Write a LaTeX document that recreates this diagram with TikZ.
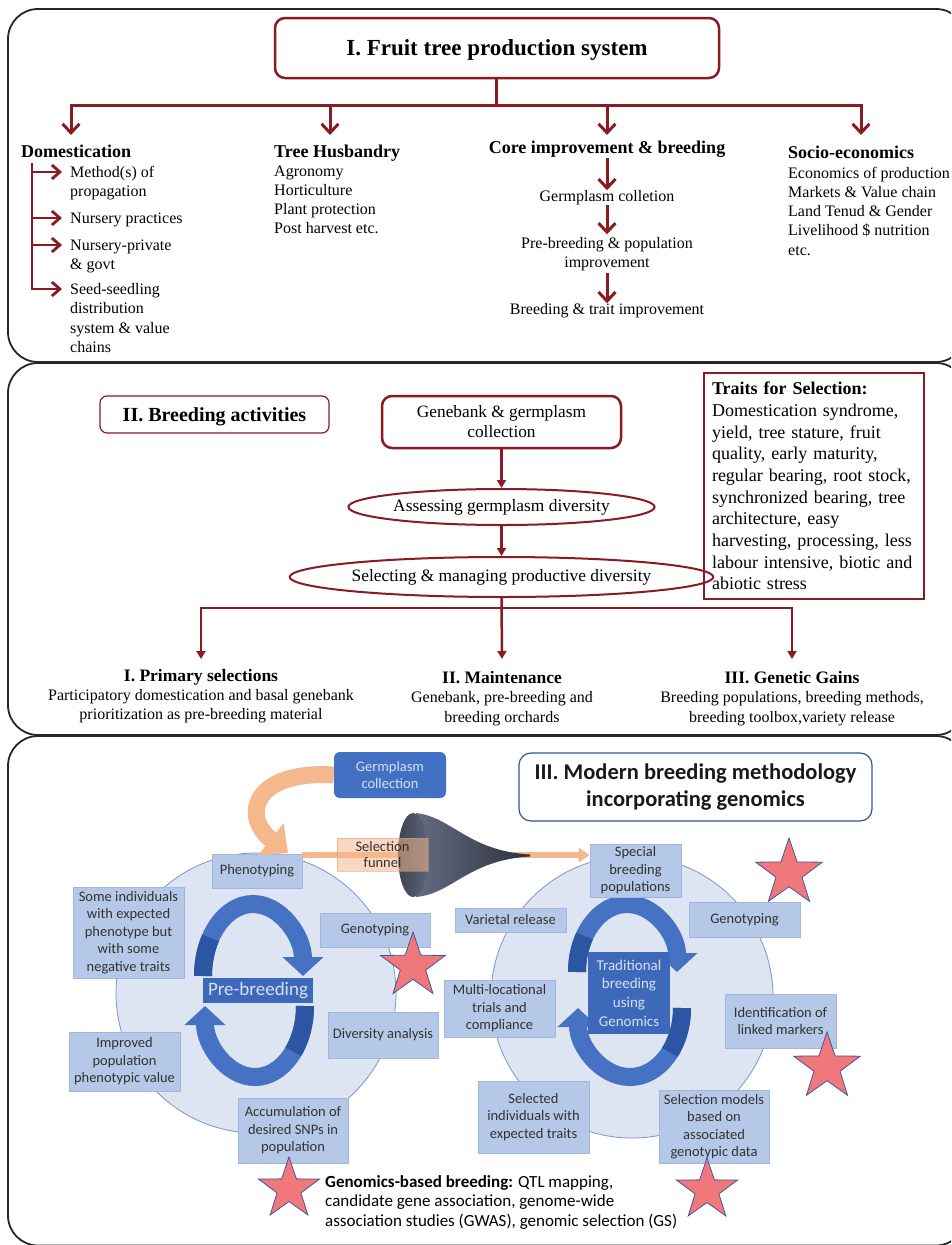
\documentclass[tikz,border=0pt]{standalone}
\usepackage{fontspec}
\setmainfont{Liberation Serif}
\newfontfamily\carl{Carlito}
\usetikzlibrary{arrows.meta,shapes.geometric}
\newcommand{\tlft}[1]{\begin{tabular}[t]{@{}l@{}}#1\end{tabular}}
\newcommand{\tctr}[1]{\begin{tabular}[t]{@{}c@{}}#1\end{tabular}}
\definecolor{dred}{RGB}{139,26,34}
\definecolor{bbord}{RGB}{47,85,151}
\definecolor{gcolr}{RGB}{66,112,194}
\definecolor{lbox}{RGB}{182,200,232}
\definecolor{lboxb}{RGB}{160,182,222}
\definecolor{circf}{RGB}{221,229,242}
\definecolor{circb}{RGB}{120,150,200}
\definecolor{arrb}{RGB}{70,114,196}
\definecolor{arrd}{RGB}{44,86,163}
\definecolor{darkbox}{RGB}{62,104,186}
\definecolor{lighttxt}{RGB}{214,225,244}
\definecolor{boxtxt}{RGB}{50,50,50}
\definecolor{starf}{RGB}{240,120,122}
\definecolor{starb}{RGB}{70,85,155}
\definecolor{peach}{RGB}{245,183,140}
\definecolor{funL}{RGB}{100,108,130}
\definecolor{funD}{RGB}{45,49,60}
\definecolor{funM}{RGB}{92,100,122}
\begin{document}
\begin{tikzpicture}[x=1pt,y=-1pt,
 panel/.style={draw=black!85,line width=1.8pt,rounded corners=30pt},
 redline/.style={draw=dred,line width=3pt},
 bararr/.style={redline,-{Straight Barb[length=9pt,width=17pt]}},
 bartwo/.style={redline,{Straight Barb[length=9pt,width=17pt]}-{Straight Barb[length=9pt,width=17pt]}},
 smallarr/.style={draw=dred,line width=2.8pt,-{Straight Barb[length=8pt,width=14pt]}},
 tri/.style={draw=dred,line width=2.5pt,-{Triangle[length=8pt,width=9pt]}},
 tritwo/.style={draw=dred,line width=2.5pt,{Triangle[length=8pt,width=9pt]}-{Triangle[length=8pt,width=9pt]}},
 body/.style={inner sep=0pt,font=\fontsize{16}{19.3}\selectfont},
 head/.style={inner sep=0pt,font=\bfseries\fontsize{18}{21}\selectfont},
 subhead/.style={inner sep=0pt,font=\bfseries\fontsize{17.5}{21}\selectfont},
 oval/.style={ellipse,draw=dred,line width=2pt,inner sep=0pt,font=\fontsize{17.4}{20}\selectfont},
 lab/.style={draw=lboxb,line width=0.6pt,fill=lbox,text=boxtxt,align=center,inner sep=0pt,font=\carl\fontsize{14.5}{17.5}\selectfont},
 starsty/.style={star,star points=5,star point ratio=2.55,fill=starf,draw=starb,line width=0.8pt,inner sep=0pt},
 bluearc/.style={draw=arrb,line width=18pt,-{Triangle[length=19pt,width=40pt]}},
 darkarc/.style={draw=arrd,line width=18pt},
 dbox/.style={fill=darkbox,text=lighttxt,inner sep=0pt,align=center}
]
\useasboundingbox (0,0) rectangle (951,1245);
\clip (0,0) rectangle (951,1245);

% ---------- panel frames ----------
\draw[panel] (8,9) rectangle (966,362);
\draw[panel] (8,363) rectangle (966,735);
\draw[panel] (8,736) rectangle (966,1245.5);

% ---------- Panel I ----------
\node[draw=dred,line width=2.5pt,rounded corners=10pt,minimum width=444pt,minimum height=60pt,text depth=0pt,font=\bfseries\fontsize{23}{27}\selectfont] (t1) at (497,48) {I. Fruit tree production system};

\coordinate (j0) at (496,105);
\coordinate (a1) at (71,135);
\coordinate (a2) at (330,135);
\coordinate (a3) at (607,135);
\coordinate (a4) at (861,135);
\draw[redline] (t1.south -| j0) -- (j0);
\draw[bartwo] (a1) |- (a4 |- j0) -- (a4);
\draw[bararr] (a2 |- j0) -- (a2);
\draw[bararr] (a3 |- j0) -- (a3);

\node[head,anchor=base west] (dom) at (21,157.5) {Domestication};
\node[body,anchor=base west] (m1) at (70,177.5) {\tlft{Method(s) of\\propagation}};
\node[body,anchor=base west] (m2) at (70,223) {Nursery practices};
\node[body,anchor=base west] (m3) at (70,250) {\tlft{Nursery-private\\\& govt}};
\node[body,anchor=base west] (m4) at (70,294.5) {\tlft{Seed-seedling\\distribution\\system \& value\\chains}};
\coordinate (k0) at (32,163);
\coordinate (h1) at (62,172);
\coordinate (h2) at (62,218);
\coordinate (h3) at (62,245);
\coordinate (h4) at (62,289);
\draw[smallarr] (k0) |- (h4);
\draw[smallarr] (h1 -| k0) -- (h1);
\draw[smallarr] (h2 -| k0) -- (h2);
\draw[smallarr] (h3 -| k0) -- (h3);

\node[head,anchor=base west] (th) at (274,157) {Tree Husbandry};
\node[body,anchor=base west] (thb) at (274,176) {\tlft{Agronomy\\Horticulture\\Plant protection\\Post harvest etc.}};

\node[head,anchor=base] (core) at (607,153.5) {Core improvement \& breeding};
\node[body,anchor=base] (gcl) at (607,201.5) {Germplasm colletion};
\node[body,anchor=base] (pbi) at (607,248) {\tctr{Pre-breeding \& population\\improvement}};
\node[body,anchor=base] (bti) at (607,314.5) {Breeding \& trait improvement};
\draw[bararr] (core.south) -- (gcl.north);
\draw[bararr] (gcl.south) -- (pbi.north);
\draw[bararr] (pbi.south) -- (bti.north);

\node[head,anchor=base west] (soc) at (788,158.5) {Socio-economics};
\node[body,anchor=base west] (socb) at (788,178) {\tlft{Economics of production\\Markets \& Value chain\\Land Tenud \& Gender\\Livelihood \$ nutrition\\etc.}};

% ---------- Panel II ----------
\node[draw=dred,line width=1.2pt,rounded corners=7pt,minimum width=229pt,minimum height=37pt,text depth=0pt,font=\bfseries\fontsize{20}{24}\selectfont] (bt) at (214.5,414.5) {II. Breeding activities};
\node[draw=dred,line width=2.5pt,rounded corners=10pt,minimum width=239pt,minimum height=52pt,align=center,font=\fontsize{17.3}{20}\selectfont] (gb) at (501.5,422) {Genebank \& germplasm\\collection};
\node[oval,minimum width=305pt,minimum height=36pt] (e1) at (501.5,507) {Assessing germplasm diversity};
\node[oval,minimum width=381pt,minimum height=40pt] (e2) at (501.5,577) {Selecting \& managing productive diversity};
\draw[tri] (gb) -- (e1);
\draw[tri] (e1) -- (e2);

\coordinate (pj) at (502,608);
\coordinate (p1) at (201,659);
\coordinate (p2) at (502,659);
\coordinate (p3) at (792,659);
\draw[tri] (e2.south) -- (p2);
\draw[tritwo] (p1) |- (p3 |- pj) -- (p3);

\node[subhead,anchor=base] (ps) at (201,681.5) {I. Primary selections};
\node[body,anchor=base,font=\fontsize{16}{19}\selectfont] (psb) at (201,700.5) {\tctr{Participatory domestication and basal genebank\\prioritization as pre-breeding material}};
\node[subhead,anchor=base] (mt) at (502,683) {II. Maintenance};
\node[body,anchor=base,font=\fontsize{16}{20}\selectfont] (mtb) at (502,702) {\tctr{Genebank, pre-breeding and\\breeding orchards}};
\node[subhead,anchor=base] (gg) at (792,683) {III. Genetic Gains};
\node[body,anchor=base,font=\fontsize{16}{20}\selectfont] (ggb) at (792,702) {\tctr{Breeding populations, breeding methods,\\breeding toolbox,variety release}};

\node[draw=dred,line width=2pt,anchor=north west,minimum width=220pt,minimum height=226pt,text width=204pt,align=left,inner xsep=8pt,inner ysep=0pt,font=\fontsize{18}{21.7}\selectfont] (traits) at (703,372) {\textbf{Traits for Selection:}\\Domestication syndrome,\\yield, tree stature, fruit\\quality, early maturity,\\regular bearing, root stock,\\synchronized bearing, tree\\architecture, easy\\harvesting, processing, less\\labour intensive, biotic and\\abiotic stress};

% ---------- Panel III ----------
\node[circle,fill=circf,draw=circb,line width=0.8pt,minimum size=280pt,inner sep=0pt] (cl) at (256,993) {};
\node[circle,fill=circf,draw=circb,line width=0.8pt,minimum size=282pt,inner sep=0pt] (cr) at (632,997) {};

% circular arrows, left
\draw[bluearc] (203,976) arc[start angle=180,end angle=360,x radius=50,y radius=72];
\draw[darkarc] (203,976) arc[start angle=180,end angle=212,x radius=50,y radius=72];
\draw[bluearc] (305,1006) arc[start angle=0,end angle=180,x radius=50,y radius=71];
\draw[darkarc] (305,1006) arc[start angle=0,end angle=40,x radius=50,y radius=71];
% circular arrows, right
\draw[bluearc] (577,972) arc[start angle=180,end angle=360,x radius=50,y radius=68];
\draw[darkarc] (577,972) arc[start angle=180,end angle=212,x radius=50,y radius=68];
\draw[bluearc] (682,1008) arc[start angle=0,end angle=180,x radius=52,y radius=69];
\draw[darkarc] (682,1008) arc[start angle=0,end angle=40,x radius=52,y radius=69];

\node[dbox,minimum width=110pt,minimum height=25pt,font=\carl\fontsize{19}{22}\selectfont] (pb) at (258,990.5) {Pre-breeding};
\node[dbox,minimum width=82pt,minimum height=82pt,font=\carl\fontsize{15}{18.7}\selectfont] (tb) at (629,993) {Traditional\\breeding\\using\\Genomics};

% label boxes
\node[lab,minimum width=90pt,minimum height=34pt] (ph) at (257,871) {Phenotyping};
\node[lab,minimum width=111pt,minimum height=91pt] (si) at (128.5,932.5) {Some individuals\\with expected\\phenotype but\\with some\\negative traits};
\node[lab,minimum width=110pt,minimum height=34pt] (g1) at (375,930) {Genotyping};
\node[lab,minimum width=110pt,minimum height=46pt] (da) at (383,1035) {Diversity analysis};
\node[lab,minimum width=111pt,minimum height=59pt] (ip) at (124.5,1061.5) {Improved\\population\\phenotypic value};
\node[lab,minimum width=110pt,minimum height=65pt] (ac) at (293,1130.5) {Accumulation of\\desired SNPs in\\population};
\node[lab,minimum width=91pt,minimum height=53pt] (sb) at (635.5,870.5) {Special\\breeding\\populations};
\node[lab,minimum width=111pt,minimum height=24pt] (vr) at (510.5,920) {Varietal release};
\node[lab,minimum width=111pt,minimum height=35pt] (g2) at (744.5,919.5) {Genotyping};
\node[lab,minimum width=111pt,minimum height=57pt] (ml) at (499.5,1008.5) {Multi-locational\\trials and\\compliance};
\node[lab,minimum width=111pt,minimum height=54pt] (il) at (780.5,1021) {Identification of\\linked markers};
\node[lab,minimum width=111pt,minimum height=72pt] (sel) at (533.5,1117) {Selected\\individuals with\\expected traits};
\node[lab,minimum width=110pt,minimum height=73pt] (sm) at (714,1126.5) {Selection models\\based on\\associated\\genotypic data};

% germplasm collection and curved arrow
\node[fill=gcolr,rounded corners=6pt,minimum width=112pt,minimum height=46pt,text=lighttxt,align=center,inner sep=0pt,font=\carl\fontsize{14.5}{17}\selectfont] (gc) at (390,775) {Germplasm\\collection};
\draw[draw=peach,line width=17pt,-{Triangle[length=22pt,width=40pt]}] (gc.west) .. controls (255,770) and (240,815) .. (288,853);

% selection funnel line
\coordinate (fs) at (302,855);
\draw[draw=peach,line width=6pt,-{Triangle[length=11pt,width=14pt]}] (fs) -- (fs -| sb.west);

% funnel
\shade[left color=funL,right color=funD] (416,813) .. controls (452,817) and (468,851) .. (530,854.5) -- (530,856.5) .. controls (468,860) and (452,894) .. (416,897) -- cycle;
\shade[left color=funD!70!funL,right color=funM] (413,855) ellipse [x radius=15, y radius=42];

\node[fill=peach,fill opacity=0.55,draw=peach!85!black,draw opacity=0.5,text opacity=1,text=boxtxt,minimum width=91pt,minimum height=33pt,align=center,inner sep=0pt,font=\carl\fontsize{14.5}{16}\selectfont] (sf) at (382.5,854.5) {Selection\\funnel};

% title
\node[draw=bbord,line width=1.2pt,rounded corners=12pt,minimum width=353pt,minimum height=68pt,align=center,text=black!90,font=\carl\bfseries\fontsize{22.5}{27}\selectfont] (t3) at (695.5,787) {III. Modern breeding methodology\\incorporating genomics};

% stars
\node[starsty,minimum size=68pt] (s1) at (413,966) {};
\node[starsty,minimum size=70pt] (s2) at (789,873) {};
\node[starsty,minimum size=70pt] (s3) at (827,1067) {};
\node[starsty,minimum size=64pt] (s4) at (289,1189) {};
\node[starsty,minimum size=64pt] (s5) at (707,1190) {};

\node[anchor=base west,inner sep=0pt,font=\carl\fontsize{17}{19.5}\selectfont] (gtext) at (325,1187) {\tlft{\textbf{Genomics-based breeding:} QTL mapping,\\candidate gene association, genome-wide\\association studies (GWAS), genomic selection (GS)}};
\end{tikzpicture}
\end{document}
